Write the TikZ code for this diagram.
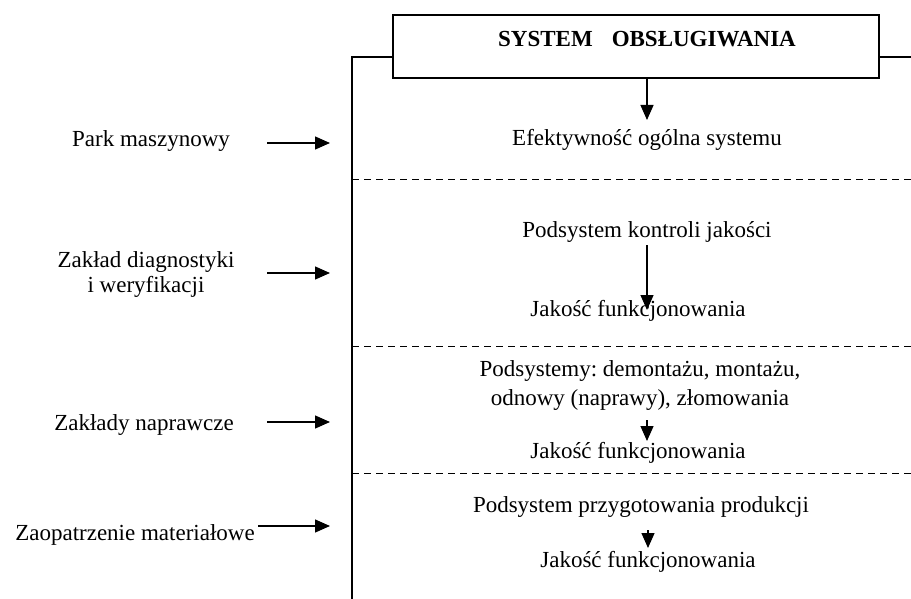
\documentclass[tikz,border=0pt]{standalone}
\usepackage{fontspec}
\setmainfont{Liberation Serif}
\usetikzlibrary{arrows.meta,positioning}
\frenchspacing

\begin{document}
\begin{tikzpicture}[x=1pt,y=-1pt,
  every node/.style={font=\fontsize{23}{25}\selectfont, inner sep=0pt},
  txt/.style={anchor=base},
  frame/.style={line width=1.3pt},
  sep/.style={dash pattern=on 7pt off 5pt, line width=0.9pt},
  arr/.style={line width=1.3pt, -{Triangle[length=15pt,width=13pt]}}]
  \useasboundingbox (0,0) rectangle (911,599);

  % top box and frame
  \node (sys) [draw, frame, minimum width=486pt, minimum height=63pt] at (636,46.5) {};
  \node (title) [txt, font=\fontsize{23}{25}\selectfont\bfseries] at (647,47) {SYSTEM\hspace{19pt}OBSŁUGIWANIA};
  \draw[frame] (352,599) -- (352,57) -- (sys.west |- 0,57);
  \draw[frame] (sys.east |- 0,57) -- (911,57);
  \foreach \y in {179,346,473}
    \draw[sep] (352,\y) -- (911,\y);

  % right column
  \node (eff) [txt] at (647,146) {Efektywność ogólna systemu};
  \node (kontr) [txt] at (647,237) {Podsystem kontroli jakości};
  \node (jak1) [txt] at (638,316) {Jakość funkcjonowania};
  \node (pods) [txt, align=center, font=\fontsize{23}{29}\selectfont] at (640,405) {Podsystemy: demontażu, montażu,\\odnowy (naprawy), złomowania};
  \node (jak2) [txt] at (638,458) {Jakość funkcjonowania};
  \node (przyg) [txt] at (641,512) {Podsystem przygotowania produkcji};
  \node (jak3) [txt] at (648,567) {Jakość funkcjonowania};

  \coordinate (e1) at (647,120);
  \coordinate (k0) at (647,245);
  \coordinate (k1) at (647,310);
  \coordinate (o0) at (647,420);
  \coordinate (o1) at (647,441);
  \coordinate (g0) at (648,530);
  \coordinate (g1) at (648,548);
  \draw[arr] (sys.south -| e1) -- (e1);
  \draw[arr] (k0) -- (k1);
  \draw[arr] (o0) -- (o1);
  \draw[arr] (g0) -- (g1);

  % left column
  \node (park) [txt] at (151,147) {Park maszynowy};
  \node (diag) [txt, align=center] at (146,292) {Zakład diagnostyki\\i weryfikacji};
  \node (napr) [txt] at (144,430) {Zakłady naprawcze};
  \node (zaop) [txt] at (135,540) {Zaopatrzenie materiałowe};

  \coordinate (p0) at (267,143);
  \coordinate (p1) at (330,143);
  \coordinate (d0) at (267,273);
  \coordinate (d1) at (330,273);
  \coordinate (n0) at (267,422);
  \coordinate (n1) at (330,422);
  \coordinate (z0) at (258,526);
  \coordinate (z1) at (330,526);
  \draw[arr] (p0) -- (p1);
  \draw[arr] (d0) -- (d1);
  \draw[arr] (n0) -- (n1);
  \draw[arr] (z0) -- (z1);
\end{tikzpicture}
\end{document}
